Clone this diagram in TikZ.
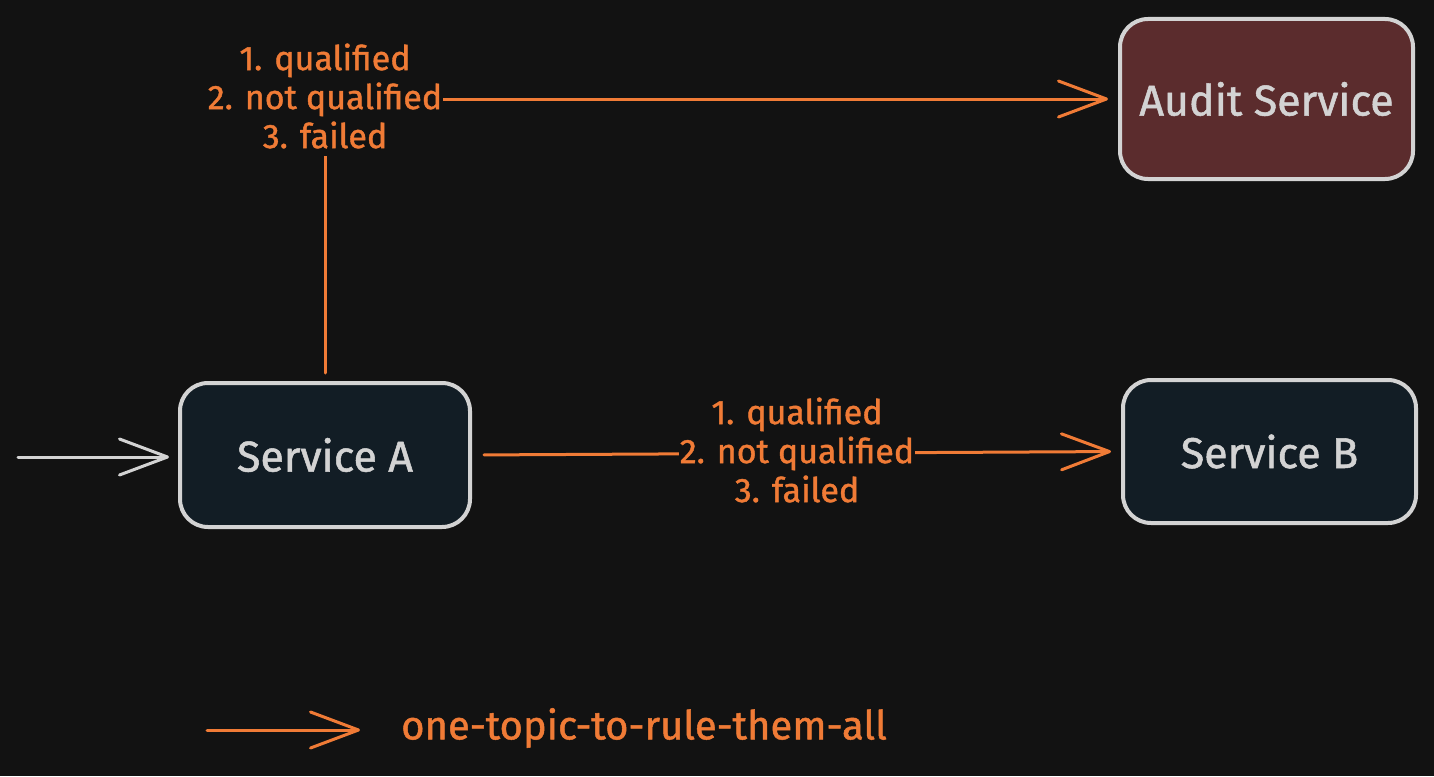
\documentclass[tikz,border=0pt]{standalone}
\usepackage{fontspec}
\setmainfont{Fira Sans}[FakeBold=1.2]
\usetikzlibrary{arrows.meta}
\definecolor{bg}{HTML}{121212}
\definecolor{stroke}{HTML}{D3D3D3}
\definecolor{boxdark}{HTML}{121D25}
\definecolor{auditfill}{HTML}{5B2C2D}
\definecolor{orng}{HTML}{F07B36}
\tikzset{
  box/.style={draw=stroke, line width=4pt, rounded corners=28pt, text=stroke,
    font=\fontsize{43}{50}\selectfont, inner sep=0pt},
  barb/.style={-{Straight Barb[length=48pt,width=36pt,line width=3pt,round]}},
  oarrow/.style={barb, draw=orng, line width=3pt, line cap=round},
  garrow/.style={barb, draw=stroke, line width=3pt, line cap=round},
  lbl/.style={fill=bg, text=orng, align=center, inner xsep=0.5pt, inner ysep=8pt,
    font=\fontsize{34}{39}\selectfont},
}
\begin{document}
\begin{tikzpicture}[x=1pt,y=-1pt]
\fill[bg] (0,0) rectangle (1434,776);
\useasboundingbox (0,0) rectangle (1434,776);

\node[box, fill=boxdark, minimum width=290pt, minimum height=144pt] (A) at (325,455) {Service A};
\node[box, fill=auditfill, minimum width=293pt, minimum height=160pt] (audit) at (1266.5,99) {Audit Service};
\node[box, fill=boxdark, minimum width=293pt, minimum height=143pt] (B) at (1269.5,451.5) {Service B};

\coordinate (in) at (18,457);
\draw[garrow, shorten >=9pt] (in) -- (A.west |- in);

\draw[oarrow, shorten <=8pt, shorten >=10pt] (A.north) |- (audit.west);
\node[lbl] (toplbl) at (325,96) {1. qualified\\2. not qualified\\3. failed};

\draw[oarrow, shorten <=12pt, shorten >=10pt] (A.east) -- (B.west);
\node[lbl] (midlbl) at (797,450) {1. qualified\\2. not qualified\\3. failed};

\coordinate (l1) at (207,730);
\coordinate (l2) at (360,730);
\draw[oarrow] (l1) -- (l2);
\node[anchor=west, text=orng, inner sep=0pt, font=\fontsize{40}{48}\selectfont] (legend) at (401,728) {one-topic-to-rule-them-all};
\end{tikzpicture}
\end{document}
